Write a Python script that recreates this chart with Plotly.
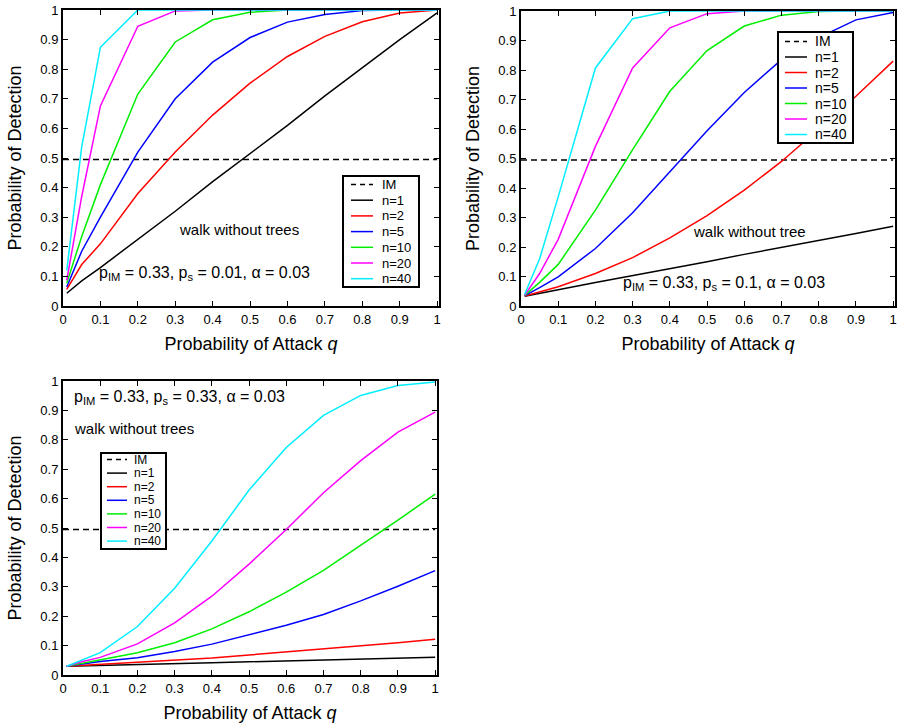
import plotly.graph_objects as go

W, H = 897, 724

# ---------------- data ----------------
q = [0.01, 0.05, 0.1, 0.2, 0.3, 0.4, 0.5, 0.6, 0.7, 0.8, 0.9, 1.0]
series_names = ["n=1", "n=2", "n=5", "n=10", "n=20", "n=40"]
series_colors = ["#000000", "#ff0000", "#0000ff", "#00ee00", "#ff00ff", "#00eeff"]
im_level = 0.495

# panel 1: p_s = 0.01
p1 = {
    "n=1":  [0.043, 0.085, 0.13, 0.225, 0.32, 0.42, 0.515, 0.61, 0.71, 0.805, 0.90, 0.99],
    "n=2":  [0.056, 0.14, 0.21, 0.38, 0.52, 0.645, 0.753, 0.843, 0.911, 0.96, 0.99, 1.0],
    "n=5":  [0.064, 0.185, 0.30, 0.52, 0.70, 0.824, 0.907, 0.959, 0.985, 0.998, 1.0, 1.0],
    "n=10": [0.077, 0.235, 0.41, 0.716, 0.892, 0.967, 0.992, 1.0, 1.0, 1.0, 1.0, 1.0],
    "n=20": [0.087, 0.37, 0.676, 0.945, 0.997, 1.0, 1.0, 1.0, 1.0, 1.0, 1.0, 1.0],
    "n=40": [0.12, 0.538, 0.874, 1.0, 1.0, 1.0, 1.0, 1.0, 1.0, 1.0, 1.0, 1.0],
}
# panel 2: p_s = 0.1
p2 = {
    "n=1":  [0.033, 0.042, 0.055, 0.08, 0.103, 0.127, 0.15, 0.175, 0.198, 0.222, 0.246, 0.27],
    "n=2":  [0.034, 0.048, 0.065, 0.11, 0.164, 0.231, 0.306, 0.393, 0.49, 0.60, 0.711, 0.83],
    "n=5":  [0.035, 0.062, 0.099, 0.195, 0.316, 0.456, 0.594, 0.724, 0.835, 0.91, 0.97, 0.995],
    "n=10": [0.036, 0.08, 0.141, 0.325, 0.53, 0.728, 0.866, 0.949, 0.986, 0.998, 1.0, 1.0],
    "n=20": [0.037, 0.11, 0.226, 0.541, 0.807, 0.943, 0.991, 1.0, 1.0, 1.0, 1.0, 1.0],
    "n=40": [0.04, 0.16, 0.37, 0.807, 0.974, 1.0, 1.0, 1.0, 1.0, 1.0, 1.0, 1.0],
}
# panel 3: p_s = 0.33
p3 = {
    "n=1":  [0.03, 0.031, 0.033, 0.036, 0.039, 0.042, 0.045, 0.048, 0.051, 0.054, 0.057, 0.06],
    "n=2":  [0.03, 0.033, 0.036, 0.042, 0.05, 0.058, 0.068, 0.078, 0.088, 0.1, 0.11, 0.122],
    "n=5":  [0.03, 0.037, 0.046, 0.059, 0.08, 0.105, 0.136, 0.169, 0.206, 0.252, 0.302, 0.355],
    "n=10": [0.03, 0.04, 0.051, 0.076, 0.11, 0.157, 0.215, 0.282, 0.356, 0.441, 0.527, 0.615],
    "n=20": [0.03, 0.045, 0.06, 0.106, 0.177, 0.268, 0.377, 0.495, 0.62, 0.729, 0.826, 0.894],
    "n=40": [0.03, 0.05, 0.076, 0.165, 0.295, 0.456, 0.629, 0.774, 0.883, 0.951, 0.985, 0.997],
}

x_ticks = [0, 0.1, 0.2, 0.3, 0.4, 0.5, 0.6, 0.7, 0.8, 0.9, 1]
x_tick_text = ["0", "0.1", "0.2", "0.3", "0.4", "0.5", "0.6", "0.7", "0.8", "0.9", "1"]
y_ticks = x_ticks
y_tick_text = x_tick_text

x_title = "Probability of Attack <i>q</i>"
y_title = "Probability of Detection"

FONT = "Liberation Sans, Arial, Helvetica, sans-serif"

# panel frames in pixels: (left, top, right, bottom)
frames = [(63, 10, 439, 306), (521, 11, 895, 306), (63, 381, 437, 675)]
panels = [p1, p2, p3]

fig = go.Figure()

def px2paper_x(px):
    return px / W

def px2paper_y(py):
    return 1 - py / H

for i, (data, fr) in enumerate(zip(panels, frames)):
    sfx = "" if i == 0 else str(i + 1)
    xa, ya = "x" + sfx, "y" + sfx
    fig.add_trace(go.Scatter(x=[0, 1], y=[im_level, im_level], mode="lines",
                             line=dict(color="black", width=1.5, dash="6px,4px"),
                             xaxis=xa, yaxis=ya, showlegend=False, hoverinfo="skip"))
    for name, col in zip(series_names, series_colors):
        fig.add_trace(go.Scatter(x=q, y=data[name], mode="lines", name=name,
                                 line=dict(color=col, width=1.5),
                                 xaxis=xa, yaxis=ya, showlegend=False))
    l, t, r, b = fr
    common = dict(showline=True, linewidth=2, linecolor="black", mirror="allticks",
                  ticks="inside", ticklen=5, tickwidth=1, tickcolor="black",
                  showgrid=False, zeroline=False, automargin=False,
                  tickfont=dict(family=FONT, size=13, color="black"),
                  title_font=dict(family=FONT, size=18, color="black"))
    fig.layout["xaxis" + sfx] = dict(common, domain=[px2paper_x(l), px2paper_x(r)],
                                     range=[0, 1.005], anchor=ya,
                                     tickvals=x_ticks, ticktext=x_tick_text,
                                     title=dict(text=x_title, standoff=12))
    fig.layout["yaxis" + sfx] = dict(common, domain=[px2paper_y(b), px2paper_y(t)],
                                     range=[0, 1], anchor=xa,
                                     tickvals=y_ticks, ticktext=y_tick_text,
                                     title=dict(text=y_title, standoff=14))

# ------------- legends (drawn as boxes with samples) -------------
legend_specs = [
    dict(box=(343, 176, 419, 287), y0=184.5, step=15.7, sx=(351, 373), tx=380, fs=13),
    dict(box=(778, 32, 853, 143), y0=41.5, step=15.5, sx=(785, 807), tx=813, fs=14),
    dict(box=(101, 453, 166, 549), y0=459.5, step=13.6, sx=(107, 127), tx=132, fs=12),
]
shapes = []
annotations = []
legend_labels = ["IM"] + series_names
legend_colors = ["black"] + series_colors
for spec in legend_specs:
    l, t, r, b = spec["box"]
    shapes.append(dict(type="rect", xref="paper", yref="paper",
                       x0=px2paper_x(l), x1=px2paper_x(r),
                       y0=px2paper_y(b), y1=px2paper_y(t),
                       line=dict(color="black", width=2), fillcolor="white", layer="above"))
    for k, (lab, col) in enumerate(zip(legend_labels, legend_colors)):
        yy = spec["y0"] + k * spec["step"]
        shapes.append(dict(type="line", xref="paper", yref="paper",
                           x0=px2paper_x(spec["sx"][0]), x1=px2paper_x(spec["sx"][1]),
                           y0=px2paper_y(yy), y1=px2paper_y(yy),
                           line=dict(color=col, width=1.5,
                                     dash="5px,4px" if lab == "IM" else "solid"),
                           layer="above"))
        annotations.append(dict(text=lab, xref="paper", yref="paper",
                                x=px2paper_x(spec["tx"]), y=px2paper_y(yy),
                                xanchor="left", yanchor="middle", showarrow=False,
                                font=dict(family=FONT, size=spec["fs"], color="black")))

# ------------- in-plot text -------------
texts = [
    ("x", "y", 0.47, 0.26, "walk without trees", "center", 15),
    ("x", "y", 0.378, 0.11, "p<sub>IM</sub> = 0.33, p<sub>s</sub> = 0.01, α = 0.03", "center", 16),
    ("x2", "y2", 0.613, 0.253, "walk without tree", "center", 15),
    ("x2", "y2", 0.546, 0.075, "p<sub>IM</sub> = 0.33, p<sub>s</sub> = 0.1, α = 0.03", "center", 16),
    ("x3", "y3", 0.025, 0.945, "p<sub>IM</sub> = 0.33, p<sub>s</sub> = 0.33, α = 0.03", "left", 16),
    ("x3", "y3", 0.025, 0.84, "walk without trees", "left", 15),
]
for xr, yr, xx, yy, txt, anc, fs in texts:
    annotations.append(dict(text=txt, xref=xr, yref=yr, x=xx, y=yy, xanchor=anc,
                            yanchor="middle", showarrow=False,
                            font=dict(family=FONT, size=fs, color="black")))

fig.update_layout(width=W, height=H, autosize=False,
                  margin=dict(l=0, r=0, t=0, b=0),
                  paper_bgcolor="white", plot_bgcolor="white",
                  shapes=shapes, annotations=annotations, showlegend=False)

fig.write_html("out.html",
               config={"displayModeBar": False, "staticPlot": True},
               post_script="document.body.style.margin='0';"
                           "document.body.style.overflow='hidden';")
